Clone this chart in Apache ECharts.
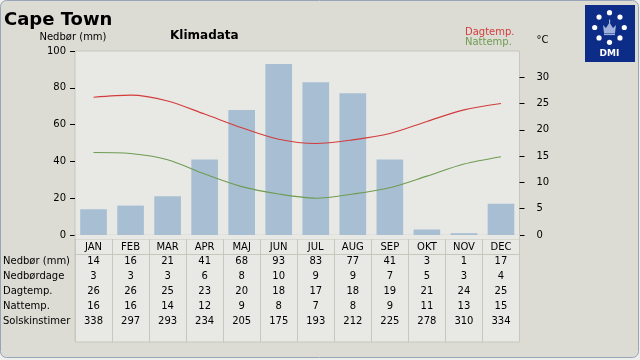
<!DOCTYPE html>
<html><head><meta charset="utf-8">
<script src="https://cdn.jsdelivr.net/npm/echarts@6/dist/echarts.min.js"></script>
<style>html,body{margin:0;padding:0;background:#eeeeec;}#c{width:640px;height:360px;}</style>
</head><body><div id="c"></div>
<script>
const months = ['JAN','FEB','MAR','APR','MAJ','JUN','JUL','AUG','SEP','OKT','NOV','DEC'];
const nedbor = [14,16,21,41,68,93,83,77,41,3,1,17];
const nedbordage = [3,3,3,6,8,10,9,9,7,5,3,4];
const dagtemp = [26,26,25,23,20,18,17,18,19,21,24,25];
const nattemp = [16,16,14,12,9,8,7,8,9,11,13,15];
const solskin = [338,297,293,234,205,175,193,212,225,278,310,334];
const dagtempCurve = [26.2,26.6,25.5,23.0,20.4,18.2,17.4,18.1,19.3,21.6,23.8,25.0];
const nattempCurve = [15.7,15.5,14.3,11.6,9.2,7.8,7.0,7.8,9.0,11.2,13.5,14.9];
const rowNames = ['Nedbør (mm)','Nedbørdage','Dagtemp.','Nattemp.','Solskinstimer'];
const rowData = [nedbor, nedbordage, dagtemp, nattemp, solskin];
const leftTicks = {min:0, max:100, interval:20};
const rightTicks = {min:0, max:35, interval:5};

const FONT = 'DejaVu Sans';
const PLOT_BG = '#e8e9e4';
const LINE_GRAY = '#c6c8bc';
const RED = '#d23c3c';
const GREEN = '#6e9c52';
const BAR = '#a8bfd3';

const chart = echarts.init(document.getElementById('c'));

const rowOffsets = [-22.7, -37.7, -52.3, -67.3, -82.3];
const tableAxes = rowData.map((d, i) => ({
  type: 'category', gridIndex: 1, position: 'top', offset: rowOffsets[i],
  data: d.map(String), boundaryGap: true,
  axisLine: {show: false, onZero: false}, axisTick: {show: false}, splitLine: {show: false},
  axisLabel: {interval: 0, margin: 0, verticalAlign: 'middle', fontSize: 10, color: '#000', fontFamily: FONT},
  name: rowNames[i], nameLocation: 'start', nameGap: 72,
  nameTextStyle: {align: 'left', verticalAlign: 'middle', fontSize: 10, color: '#000', fontFamily: FONT}
}));

// DMI logo
const cx = 609.5, cy = 27.5, R = 14.8;
const dots = [];
for (let k = 0; k < 8; k++) {
  const a = -Math.PI / 2 + k * Math.PI / 4;
  dots.push({type: 'circle', shape: {cx: cx + R * Math.cos(a), cy: cy + R * Math.sin(a), r: 2.6}, style: {fill: '#ffffff'}, z: 10});
}

const option = {
  backgroundColor: 'transparent',
  animation: false,
  textStyle: {fontFamily: FONT},
  title: [
    {text: 'Cape Town', left: 4, top: 11, padding: 0, textStyle: {fontSize: 18, fontWeight: 'bold', color: '#000', fontFamily: FONT}},
    {text: 'Klimadata', left: 170, top: 30, padding: 0, textStyle: {fontSize: 12, fontWeight: 'bold', color: '#000', fontFamily: FONT}}
  ],
  legend: {
    left: 460, top: 27, orient: 'vertical', align: 'left', selectedMode: false,
    icon: 'none', itemWidth: 0, itemHeight: 10, itemGap: 0, padding: 0,
    textStyle: {fontSize: 10, fontFamily: FONT, padding: 0},
    data: [
      {name: 'Dagtemp.', textStyle: {color: RED}},
      {name: 'Nattemp.', textStyle: {color: GREEN}}
    ]
  },
  grid: [
    {left: 75, top: 51, width: 444.5, height: 184, show: true, backgroundColor: PLOT_BG, borderColor: LINE_GRAY, borderWidth: 1, outerBoundsMode: 'none', containLabel: false},
    {left: 75, top: 239, width: 444.5, height: 103, show: true, backgroundColor: PLOT_BG, borderColor: LINE_GRAY, borderWidth: 1, outerBoundsMode: 'none', containLabel: false}
  ],
  xAxis: [
    {type: 'category', gridIndex: 0, data: months, boundaryGap: true, show: false, axisLine: {onZero: false}},
    {type: 'category', gridIndex: 1, position: 'top', offset: -15, data: months, boundaryGap: true,
      axisLine: {show: true, onZero: false, lineStyle: {color: LINE_GRAY, width: 1}},
      axisTick: {show: false},
      splitLine: {show: true, interval: 0, lineStyle: {color: LINE_GRAY, width: 1}},
      axisLabel: {interval: 0, margin: 7, verticalAlign: 'middle', fontSize: 10, color: '#000', fontFamily: FONT}},
    ...tableAxes
  ],
  yAxis: [
    {type: 'value', gridIndex: 0, position: 'left', min: leftTicks.min, max: leftTicks.max, interval: leftTicks.interval,
      axisLine: {show: false}, splitLine: {show: false},
      axisTick: {show: true, length: 5, lineStyle: {color: '#000'}},
      axisLabel: {margin: 9, fontSize: 10, color: '#000', fontFamily: FONT},
      name: 'Nedbør (mm)', nameLocation: 'end', nameGap: 9,
      nameTextStyle: {align: 'center', verticalAlign: 'bottom', padding: [0, 4, 0, 0], fontSize: 10, color: '#000', fontFamily: FONT}},
    {type: 'value', gridIndex: 0, position: 'right', min: rightTicks.min, max: rightTicks.max, interval: rightTicks.interval,
      axisLine: {show: false}, splitLine: {show: false},
      axisTick: {show: true, length: 5, lineStyle: {color: '#000'}},
      axisLabel: {margin: 17, fontSize: 10, color: '#000', fontFamily: FONT, showMaxLabel: false,
        formatter: v => (v >= rightTicks.max ? '' : String(v))},
      name: '°C', nameLocation: 'end', nameGap: 6,
      nameTextStyle: {align: 'left', verticalAlign: 'bottom', padding: [0, 0, 0, 17], fontSize: 10, color: '#000', fontFamily: FONT}},
    {type: 'value', gridIndex: 1, show: false, min: 0, max: 1}
  ],
  series: [
    {name: 'Nedbør (mm)', type: 'bar', xAxisIndex: 0, yAxisIndex: 0, data: nedbor, barWidth: '72%',
      itemStyle: {color: BAR}, z: 3},
    {name: 'Dagtemp.', type: 'line', xAxisIndex: 0, yAxisIndex: 1, data: dagtempCurve, smooth: 0.3,
      symbol: 'none', lineStyle: {color: RED, width: 1.1}, itemStyle: {color: RED}, z: 4},
    {name: 'Nattemp.', type: 'line', xAxisIndex: 0, yAxisIndex: 1, data: nattempCurve, smooth: 0.3,
      symbol: 'none', lineStyle: {color: GREEN, width: 1.1}, itemStyle: {color: GREEN}, z: 4}
  ],
  graphic: [
    {type: 'rect', shape: {x: 0.5, y: 0.5, width: 638, height: 357, r: 6}, style: {fill: '#dcdcd4', stroke: '#98a4b8', lineWidth: 1}, z: -100, silent: true},
    {type: 'rect', shape: {x: 75.5, y: 234.6, width: 443.5, height: 4.4}, style: {fill: PLOT_BG}, z: 1, silent: true},
    {type: 'line', shape: {x1: 75, y1: 234, x2: 75, y2: 239}, style: {stroke: LINE_GRAY, lineWidth: 1}, z: 1, silent: true},
    {type: 'line', shape: {x1: 519.5, y1: 234, x2: 519.5, y2: 239}, style: {stroke: LINE_GRAY, lineWidth: 1}, z: 1, silent: true},
    {type: 'rect', shape: {x: 585, y: 5, width: 50, height: 57}, style: {fill: '#0c2c88'}, z: 9, silent: true},
    ...dots,
    {type: 'polygon', shape: {points: [[604, 33], [615, 33], [616, 25], [613, 28], [609.5, 22.5], [606, 28], [603, 25]]}, style: {fill: '#9fb0dc'}, z: 10, silent: true},
    {type: 'rect', shape: {x: 604, y: 33.5, width: 11, height: 1.6}, style: {fill: '#9fb0dc'}, z: 10, silent: true},
    {type: 'rect', shape: {x: 609, y: 19.5, width: 1.2, height: 3.5}, style: {fill: '#9fb0dc'}, z: 10, silent: true},
    {type: 'text', x: 609.5, y: 54, style: {text: 'DMI', fill: '#ffffff', font: 'bold 9px "DejaVu Sans"', textAlign: 'center', textVerticalAlign: 'middle'}, z: 10, silent: true}
  ]
};
chart.setOption(option);
</script></body></html>
